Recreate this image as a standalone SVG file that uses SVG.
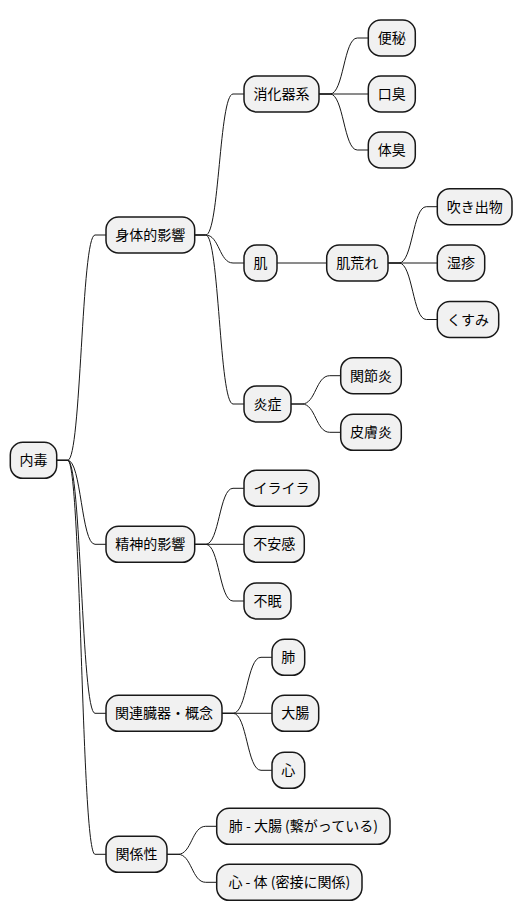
<svg xmlns="http://www.w3.org/2000/svg" width="530" height="921" viewBox="0 0 530 921">
<style>
.n rect{fill:#F1F1F1;stroke:#181818;stroke-width:1.5}
.n text{font-family:"Noto Sans CJK JP","Noto Sans",sans-serif;font-size:14px;fill:#000;text-anchor:middle}
#edges path{fill:none;stroke:#181818;stroke-width:1}
</style>
<rect width="530" height="921" fill="#FFFFFF"/>
<g id="edges">
<path d="M56.7,460.3 L67.7,460.3 C81.3,460.3 81.3,235 95,235 L106,235"/>
<path d="M56.7,460.3 L67.7,460.3 C81.3,460.3 81.3,544.3 95,544.3 L106,544.3"/>
<path d="M56.7,460.3 L67.7,460.3 C81.3,460.3 81.3,713.3 95,713.3 L106,713.3"/>
<path d="M56.7,460.3 L67.7,460.3 C81.3,460.3 81.3,854.3 95,854.3 L106,854.3"/>
<path d="M194.7,235 L205.7,235 C219.3,235 219.3,94 233,94 L244,94"/>
<path d="M194.7,235 L205.7,235 C219.3,235 219.3,263 233,263 L244,263"/>
<path d="M194.7,235 L205.7,235 C219.3,235 219.3,404 233,404 L244,404"/>
<path d="M319,94 L330,94 C343.7,94 343.7,38 357.3,38 L368.3,38"/>
<path d="M319,94 L368.3,94"/>
<path d="M319,94 L330,94 C343.7,94 343.7,150 357.3,150 L368.3,150"/>
<path d="M277,263 L326.7,263"/>
<path d="M388,263 L399,263 C412.7,263 412.7,206.7 426.3,206.7 L437.3,206.7"/>
<path d="M388,263 L437.3,263"/>
<path d="M388,263 L399,263 C412.7,263 412.7,319.5 426.3,319.5 L437.3,319.5"/>
<path d="M291,404 L302,404 C315.8,404 315.8,375.7 329.7,375.7 L340.7,375.7"/>
<path d="M291,404 L302,404 C315.8,404 315.8,432.3 329.7,432.3 L340.7,432.3"/>
<path d="M194.7,544.3 L205.7,544.3 C219.3,544.3 219.3,488.3 233,488.3 L244,488.3"/>
<path d="M194.7,544.3 L244,544.3"/>
<path d="M194.7,544.3 L205.7,544.3 C219.3,544.3 219.3,601 233,601 L244,601"/>
<path d="M222,713.3 L233,713.3 C247,713.3 247,657.3 261,657.3 L272,657.3"/>
<path d="M222,713.3 L272,713.3"/>
<path d="M222,713.3 L233,713.3 C247,713.3 247,770.3 261,770.3 L272,770.3"/>
<path d="M167,854.3 L178,854.3 C191.8,854.3 191.8,826.3 205.7,826.3 L216.7,826.3"/>
<path d="M167,854.3 L178,854.3 C191.8,854.3 191.8,882.3 205.7,882.3 L216.7,882.3"/>
</g>
<g id="n-naidoku" class="n"><rect x="10.3" y="442.3" width="46.4" height="36" rx="12.5"/><text x="33.5" y="465.3">内毒</text></g>
<g id="n-shintai" class="n"><rect x="106" y="217" width="88.7" height="36" rx="12.5"/><text x="150.35" y="240">身体的影響</text></g>
<g id="n-shouka" class="n"><rect x="244" y="76" width="75" height="36" rx="12.5"/><text x="281.5" y="99">消化器系</text></g>
<g id="n-benpi" class="n"><rect x="368.3" y="20" width="47" height="36" rx="12.5"/><text x="391.8" y="43">便秘</text></g>
<g id="n-koushuu" class="n"><rect x="368.3" y="76" width="47" height="36" rx="12.5"/><text x="391.8" y="99">口臭</text></g>
<g id="n-taishuu" class="n"><rect x="368.3" y="132" width="47" height="36" rx="12.5"/><text x="391.8" y="155">体臭</text></g>
<g id="n-hada" class="n"><rect x="244" y="245" width="33" height="36" rx="12.5"/><text x="260.5" y="268">肌</text></g>
<g id="n-hadaare" class="n"><rect x="326.7" y="245" width="61.3" height="36" rx="12.5"/><text x="357.35" y="268">肌荒れ</text></g>
<g id="n-fukidemono" class="n"><rect x="437.3" y="188.7" width="74.7" height="36" rx="12.5"/><text x="474.65" y="211.7">吹き出物</text></g>
<g id="n-shisshin" class="n"><rect x="437.3" y="245" width="47.4" height="36" rx="12.5"/><text x="461" y="268">湿疹</text></g>
<g id="n-kusumi" class="n"><rect x="437.3" y="301.5" width="61.4" height="36" rx="12.5"/><text x="468" y="324.5">くすみ</text></g>
<g id="n-enshou" class="n"><rect x="244" y="386" width="47" height="36" rx="12.5"/><text x="267.5" y="409">炎症</text></g>
<g id="n-kansetsuen" class="n"><rect x="340.7" y="357.7" width="60.6" height="36" rx="12.5"/><text x="371" y="380.7">関節炎</text></g>
<g id="n-hifuen" class="n"><rect x="340.7" y="414.3" width="60.6" height="36" rx="12.5"/><text x="371" y="437.3">皮膚炎</text></g>
<g id="n-seishin" class="n"><rect x="106" y="526.3" width="88.7" height="36" rx="12.5"/><text x="150.35" y="549.3">精神的影響</text></g>
<g id="n-iraira" class="n"><rect x="244" y="470.3" width="75" height="36" rx="12.5"/><text x="281.5" y="493.3">イライラ</text></g>
<g id="n-fuankan" class="n"><rect x="244" y="526.3" width="60.3" height="36" rx="12.5"/><text x="274.15" y="549.3">不安感</text></g>
<g id="n-fumin" class="n"><rect x="244" y="583" width="47" height="36" rx="12.5"/><text x="267.5" y="606">不眠</text></g>
<g id="n-kanren" class="n"><rect x="106" y="695.3" width="116" height="36" rx="12.5"/><text x="164" y="718.3">関連臓器・概念</text></g>
<g id="n-hai" class="n"><rect x="272" y="639.3" width="32.7" height="36" rx="12.5"/><text x="288.35" y="662.3">肺</text></g>
<g id="n-daichou" class="n"><rect x="272" y="695.3" width="46.7" height="36" rx="12.5"/><text x="295.35" y="718.3">大腸</text></g>
<g id="n-kokoro" class="n"><rect x="272" y="752.3" width="32.7" height="36" rx="12.5"/><text x="288.35" y="775.3">心</text></g>
<g id="n-kankei" class="n"><rect x="106" y="836.3" width="61" height="36" rx="12.5"/><text x="136.5" y="859.3">関係性</text></g>
<g id="n-hai-daichou" class="n"><rect x="216.7" y="808.3" width="173.3" height="36" rx="12.5"/><text x="303.35" y="831.3">肺 - 大腸 (繋がっている)</text></g>
<g id="n-kokoro-karada" class="n"><rect x="216.7" y="864.3" width="145.3" height="36" rx="12.5"/><text x="289.35" y="887.3">心 - 体 (密接に関係)</text></g>
</svg>
